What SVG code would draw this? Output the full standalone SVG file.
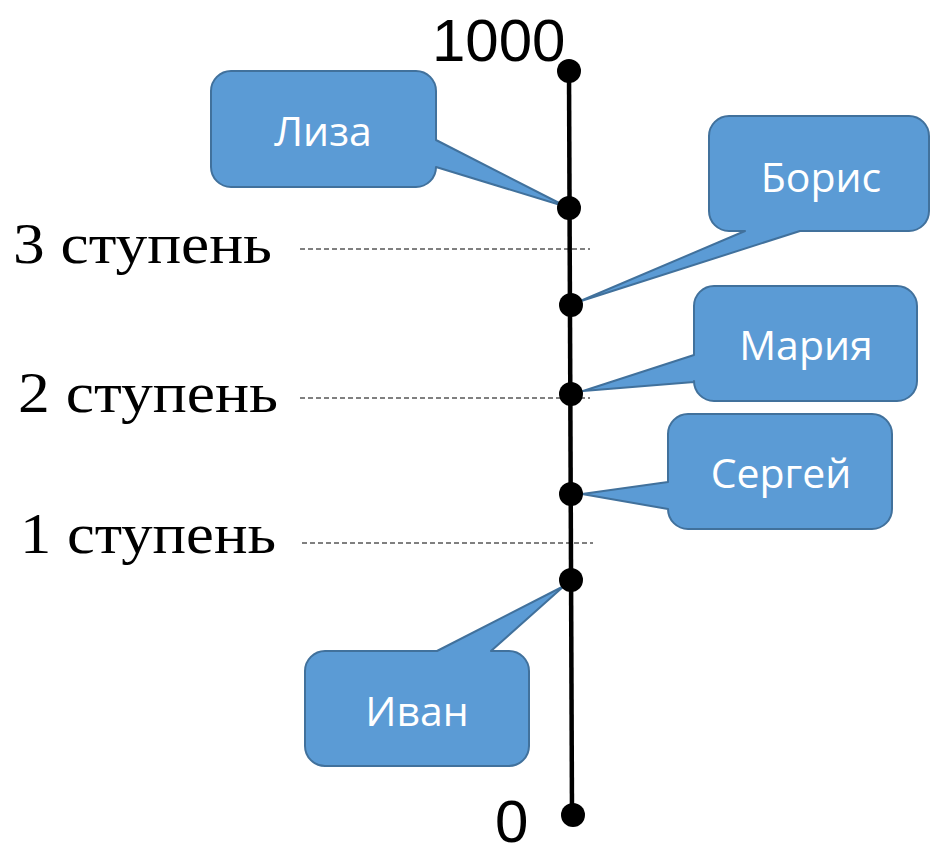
<svg xmlns="http://www.w3.org/2000/svg" width="930" height="852" viewBox="0 0 930 852">
<style>
.call{fill:#5B9BD5;stroke:#41719C;stroke-width:2;stroke-linejoin:round}
.ct{font-family:"Open Sans","Noto Sans",sans-serif;font-size:41px;fill:#FFFFFF;text-anchor:middle}
.lvl{font-family:"Liberation Serif","Times New Roman",serif;font-size:58px;fill:#000}
.num{font-family:"Liberation Sans",Arial,sans-serif;font-size:60px;fill:#000}
.dash{stroke:#000;stroke-width:1;stroke-dasharray:5 3;fill:none}
.dot{fill:#000}
</style>
<rect width="930" height="852" fill="#fff"/>
<g id="levels">
<text class="lvl" x="13" y="263" textLength="259" lengthAdjust="spacingAndGlyphs">3 ступень</text>
<text class="lvl" x="18" y="412" textLength="260" lengthAdjust="spacingAndGlyphs">2 ступень</text>
<text class="lvl" x="20" y="553" textLength="256" lengthAdjust="spacingAndGlyphs">1 ступень</text>
</g>
<g id="connectors">
<line class="dash" x1="300" y1="249" x2="590" y2="249"/>
<line class="dash" x1="300" y1="398" x2="590" y2="398"/>
<line class="dash" x1="302" y1="543" x2="593" y2="543"/>
<line x1="569" y1="71" x2="572" y2="815" stroke="#000" stroke-width="4.5"/>
</g>
<g id="axis-labels">
<text class="num" x="432" y="61">1000</text>
<text class="num" x="495" y="842" font-size="57">0</text>
</g>
<g id="liza">
<path class="call" d="M231,71 H416 A20,20 0 0 1 436,91 V140 L567,207 L436,167 A20,20 0 0 1 416,187 H231 A20,20 0 0 1 211,167 V91 A20,20 0 0 1 231,71 Z"/>
<text class="ct" x="323" y="146">Лиза</text>
</g>
<g id="boris">
<path class="call" d="M729,116 H909 A20,20 0 0 1 929,136 V211 A20,20 0 0 1 909,231 H800 L578,302 L745,231 H729 A20,20 0 0 1 709,211 V136 A20,20 0 0 1 729,116 Z"/>
<text class="ct" x="821" y="192">Борис</text>
</g>
<g id="maria">
<path class="call" d="M714,286 H897 A20,20 0 0 1 917,306 V381 A20,20 0 0 1 897,401 H714 A20,20 0 0 1 694,381 V382 L583,391 L694,355 V306 A20,20 0 0 1 714,286 Z"/>
<text class="ct" x="806" y="360">Мария</text>
</g>
<g id="sergey">
<path class="call" d="M688,414 H872 A20,20 0 0 1 892,434 V509 A20,20 0 0 1 872,529 H688 A20,20 0 0 1 668,509 L582,494 L668,482 V434 A20,20 0 0 1 688,414 Z"/>
<text class="ct" x="781" y="488">Сергей</text>
</g>
<g id="ivan">
<path class="call" d="M325,651 H437 L564,586 L491,651 H509 A20,20 0 0 1 529,671 V746 A20,20 0 0 1 509,766 H325 A20,20 0 0 1 305,746 V671 A20,20 0 0 1 325,651 Z"/>
<text class="ct" x="417" y="726">Иван</text>
</g>
<g id="dots">
<circle class="dot" cx="569" cy="71" r="12"/>
<circle class="dot" cx="569" cy="208" r="12"/>
<circle class="dot" cx="571" cy="305" r="12"/>
<circle class="dot" cx="571" cy="394" r="12"/>
<circle class="dot" cx="571" cy="494" r="12"/>
<circle class="dot" cx="571" cy="580" r="12"/>
<circle class="dot" cx="573" cy="815" r="12"/>
</g>
</svg>
